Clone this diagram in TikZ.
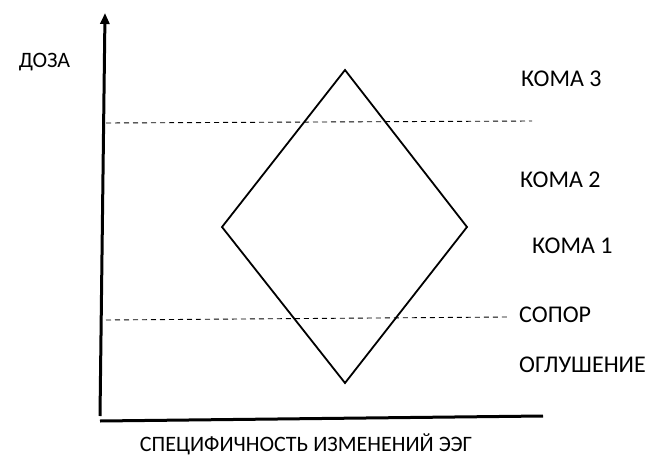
\documentclass[tikz,border=0pt]{standalone}
\usepackage{fontspec}
\setmainfont{Carlito}
\usetikzlibrary{arrows.meta}
\begin{document}
\begin{tikzpicture}[x=1pt,y=-1pt,
  axisline/.style={line width=3pt},
  diamondline/.style={line width=1.8pt, line join=miter},
  levelline/.style={line width=0.9pt, dash pattern=on 5pt off 4pt},
  lbl/.style={font=\fontsize{22}{26}\selectfont, inner sep=0pt, anchor=base},
  rlbl/.style={font=\fontsize{24}{28}\selectfont, inner sep=0pt, anchor=base west}]
\useasboundingbox (0,0) rectangle (656,460);
% axes
\coordinate (origin) at (100,416);
\coordinate (ytop) at (105,13);
\coordinate (xstart) at (100,421);
\coordinate (xend) at (543,416);
\draw[axisline, -{Triangle[length=11pt,width=9pt]}] (origin) -- (ytop);
\draw[axisline] (xstart) -- (xend);
% diamond
\coordinate (top) at (345,70);
\coordinate (left) at (222,227);
\coordinate (right) at (467,227);
\coordinate (bottom) at (345,383);
\draw[diamondline] (top) -- (right) -- (bottom) -- (left) -- cycle;
% dashed levels
\coordinate (d1a) at (106,123);
\coordinate (d1b) at (532,121);
\coordinate (d2a) at (106,320);
\coordinate (d2b) at (508,317);
\draw[levelline] (d1a) -- (d1b);
\draw[levelline] (d2a) -- (d2b);
% labels
\node[lbl] (doza) at (44.5,68) {ДОЗА};
\node[rlbl] (k3) at (521,86) {КОМА 3};
\node[rlbl] (k2) at (520,187) {КОМА 2};
\node[rlbl] (k1) at (532,253) {КОМА 1};
\node[rlbl] (sopor) at (519,322) {СОПОР};
\node[rlbl] (ogl) at (519,372) {ОГЛУШЕНИЕ};
\node[lbl] (xlabel) at (306,451) {СПЕЦИФИЧНОСТЬ ИЗМЕНЕНИЙ ЭЭГ};
\end{tikzpicture}
\end{document}
